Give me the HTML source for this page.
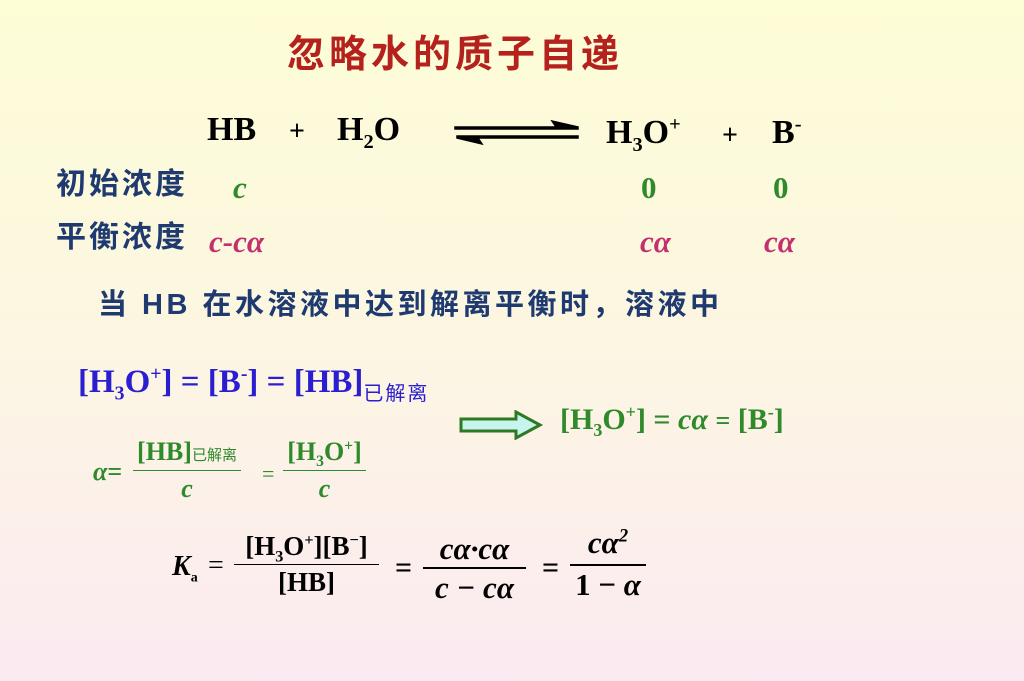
<!DOCTYPE html>
<html><head><meta charset="utf-8"><style>
body{margin:0}
#p{position:relative;width:1024px;height:681px;overflow:hidden;background:linear-gradient(#fdfdd6 0%,#fcf6e2 50%,#fbeaf1 100%);font-family:"Liberation Serif","Noto Serif CJK SC",serif}
.a{position:absolute;white-space:nowrap;line-height:1}
.cj{font-family:"Liberation Sans","Noto Sans CJK SC",sans-serif;font-weight:bold}
.b{font-weight:bold}
.nv{color:#1f3a70}
.gr{color:#2e8a2a}
.mg{color:#c3306e}
.bl{color:#2a1ed0}
sub,sup{font-size:60%;line-height:0}
.fr{position:absolute;display:flex;flex-direction:column;align-items:center;line-height:1}
.ln{border-top:1.5px solid currentColor;align-self:stretch;margin:3px 0}
</style></head><body><div id="p">
<div class="a cj" style="left:287px;top:36px;font-size:38px;letter-spacing:4px;color:#b5221e">忽略水的质子自递</div>

<div class="a b" style="left:207px;top:113px;font-size:34px">HB</div>
<div class="a b" style="left:289px;top:118px;font-size:28px">+</div>
<div class="a b" style="left:337px;top:113px;font-size:34px">H<sub>2</sub>O</div>
<svg class="a" style="left:452px;top:118px" width="130" height="28"><path d="M3 9 H126 V11 H3 Z M126 9 L100 3 L104 9 Z" fill="#000" stroke="#000" stroke-width="1.5"/><path d="M5 18 H126 V20 H5 Z M5 20 L30 26 L26 20 Z" fill="#000" stroke="#000" stroke-width="1.5"/></svg>
<div class="a b" style="left:606px;top:116px;font-size:34px">H<sub>3</sub>O<sup>+</sup></div>
<div class="a b" style="left:722px;top:122px;font-size:28px">+</div>
<div class="a b" style="left:772px;top:116px;font-size:34px">B<sup>-</sup></div>

<div class="a cj nv" style="left:56px;top:170px;font-size:30px;letter-spacing:3px">初始浓度</div>
<div class="a b gr" style="left:233px;top:172px;font-size:31px;font-style:italic">c</div>
<div class="a b gr" style="left:641px;top:172px;font-size:31px">0</div>
<div class="a b gr" style="left:773px;top:172px;font-size:31px">0</div>

<div class="a cj nv" style="left:56px;top:223px;font-size:30px;letter-spacing:3px">平衡浓度</div>
<div class="a b mg" style="left:209px;top:226px;font-size:31px;font-style:italic">c-cα</div>
<div class="a b mg" style="left:640px;top:226px;font-size:31px;font-style:italic">cα</div>
<div class="a b mg" style="left:764px;top:226px;font-size:31px;font-style:italic">cα</div>

<div class="a cj nv" style="left:98px;top:291px;font-size:29px;letter-spacing:3.5px">当 HB 在水溶液中达到解离平衡时，溶液中</div>

<div class="a b bl" style="left:78px;top:366px;font-size:33px">[H<sub>3</sub>O<sup>+</sup>] = [B<sup>-</sup>] = [HB]<span class="cj" style="font-size:20px;position:relative;top:8px;font-weight:normal;letter-spacing:2px">已解离</span></div>

<svg class="a" style="left:458px;top:410px" width="86" height="30"><path d="M3 9 H58 V2 L82 15 L58 28 V21 H3 Z" fill="#c8f4ee" stroke="#2e7a22" stroke-width="3"/></svg>
<div class="a gr b" style="left:560px;top:405px;font-size:30px">[H<sub>3</sub>O<sup>+</sup>] = <i>cα</i> <span style="font-size:26px">=</span> [B<sup>-</sup>]</div>

<div class="a gr b" style="left:93px;top:459px;font-size:26px"><i>α</i>=</div>
<div class="fr gr b" style="left:133px;top:439px;width:108px;font-size:26px"><span>[HB]<span class="cj" style="font-size:15px;font-weight:normal">已解离</span></span><div class="ln" style="margin:5px 0"></div><i>c</i></div>
<div class="a gr" style="left:262px;top:463px;font-size:22px">=</div>
<div class="fr gr b" style="left:283px;top:439px;width:83px;font-size:26px"><span>[H<sub>3</sub>O<sup>+</sup>]</span><div class="ln" style="margin:5px 0"></div><i>c</i></div>

<div class="a b" style="left:172px;top:553px;font-size:28px"><i>K</i><sub style="font-size:14px">a</sub></div>
<div class="a" style="left:208px;top:552px;font-size:28px">=</div>
<div class="fr b" style="left:234px;top:533px;width:145px;font-size:27px"><span>[H<sub>3</sub>O<sup>+</sup>][B<sup>−</sup>]</span><div class="ln" style="margin:4px 0"></div><span>[HB]</span></div>
<div class="a b" style="left:395px;top:553px;font-size:30px">=</div>
<div class="fr b" style="left:423px;top:533px;width:103px;font-size:31px"><i>cα·cα</i><div class="ln" style="margin:3px 0;border-top-width:2px"></div><i>c − cα</i></div>
<div class="a b" style="left:542px;top:553px;font-size:30px">=</div>
<div class="fr b" style="left:570px;top:527px;width:76px;font-size:31px"><i>cα<sup>2</sup></i><div class="ln" style="margin:6px 0 3px;border-top-width:2px"></div><span>1 − <i>α</i></span></div>
</div></body></html>
